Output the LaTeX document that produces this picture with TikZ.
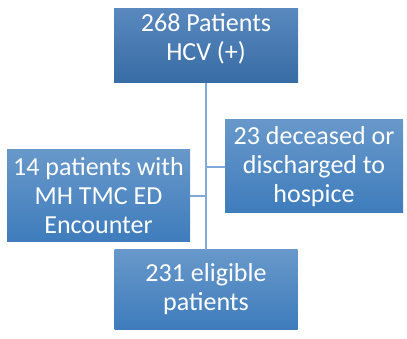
\documentclass[tikz,border=0pt]{standalone}
\usepackage{fontspec}
\setmainfont{Carlito}
\usepackage{tikz}

\definecolor{boxtop}{RGB}{104,152,202}
\definecolor{boxbot}{RGB}{62,124,188}
\definecolor{headtop}{RGB}{88,136,190}
\definecolor{headbot}{RGB}{56,108,164}
\definecolor{linkblue}{RGB}{128,168,216}

\begin{document}
\begin{tikzpicture}[x=1pt, y=-1pt,
  every node/.style={font=\fontsize{26}{29}\selectfont},
  flowbox/.style={rectangle, inner sep=0pt, align=center, text=white,
    top color=boxtop, bottom color=boxbot},
  headbox/.style={flowbox, top color=headtop, bottom color=headbot},
  link/.style={draw=linkblue, line width=1.4pt}]
  \useasboundingbox (0,0) rectangle (407,339);
  % boxes
  \node[headbox, minimum width=184pt, minimum height=74pt, text depth=17pt] (hcv) at (206,46) {268 Patients\\HCV (+)};
  \node[flowbox, minimum width=178pt, minimum height=93pt] (lost) at (314,166.5) {23 deceased or\\discharged to\\hospice};
  \node[flowbox, minimum width=183pt, minimum height=92pt] (tmc) at (98.5,196) {14 patients with\\MH TMC ED\\Encounter};
  \node[flowbox, minimum width=183pt, minimum height=79pt] (elig) at (206,289.5) {231 eligible\\patients};
  % connectors
  \coordinate (tolost) at (206,167);
  \coordinate (totmc) at (206,196);
  \draw[link] (hcv.south) -- (elig.north);
  \draw[link] (tolost) -- (tolost -| lost.west);
  \draw[link] (totmc -| tmc.east) -- (totmc);
\end{tikzpicture}
\end{document}
